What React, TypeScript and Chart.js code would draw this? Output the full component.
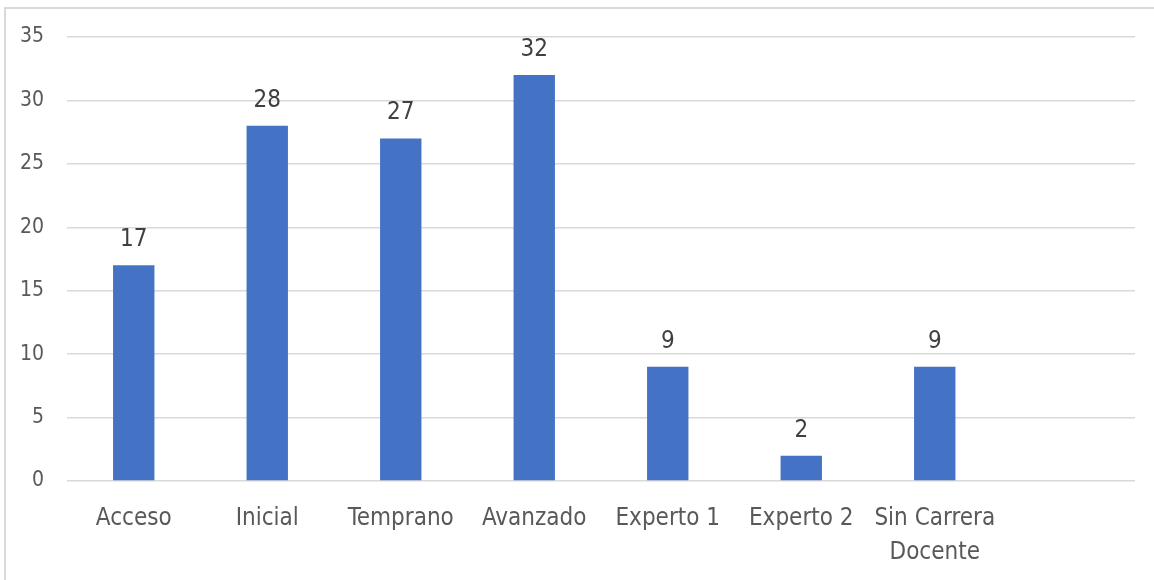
import React, { useEffect, useRef } from "react";
import { Chart, registerables } from "chart.js";

Chart.register(...registerables);

const categories: (string | string[])[] = [
  "Acceso",
  "Inicial",
  "Temprano",
  "Avanzado",
  "Experto 1",
  "Experto 2",
  ["Sin Carrera", "Docente"],
  "",
];
const values: (number | null)[] = [17, 28, 27, 32, 9, 2, 9, null];
const yMax = 35;
const yStep = 5;

const FONT = '"Liberation Sans Narrow", "DejaVu Sans Condensed", "Roboto", sans-serif';

const dataLabelPlugin = {
  id: "dataLabels",
  afterDatasetsDraw(chart: any) {
    const ctx = chart.ctx;
    const meta = chart.getDatasetMeta(0);
    ctx.save();
    ctx.font = `24px ${FONT}`;
    ctx.fillStyle = "#404040";
    ctx.textAlign = "center";
    ctx.textBaseline = "alphabetic";
    meta.data.forEach((el: any, i: number) => {
      const v = values[i];
      if (v === null || v === undefined) return;
      ctx.fillText(String(v), el.x, el.y - 19);
    });
    ctx.restore();
  },
};

export default function App() {
  const ref = useRef<HTMLCanvasElement>(null);
  useEffect(() => {
    if (!ref.current) return;
    const chart = new Chart(ref.current, {
      type: "bar",
      data: {
        labels: categories,
        datasets: [
          {
            data: values,
            backgroundColor: "#4472C4",
            categoryPercentage: 1,
            barPercentage: 0.31,
          },
        ],
      },
      options: {
        animation: false,
        responsive: false,
        maintainAspectRatio: false,
        layout: { padding: { top: 37, right: 19, left: 0, bottom: 0 } },
        plugins: { legend: { display: false }, tooltip: { enabled: false } },
        scales: {
          x: {
            grid: { display: false },
            border: { display: false },
            ticks: {
              color: "#595959",
              font: { family: FONT, size: 24, lineHeight: 1.45 },
              padding: 12,
              maxRotation: 0,
              autoSkip: false,
            },
            afterFit: (s: any) => {
              s.height = 99;
            },
          },
          y: {
            min: 0,
            max: yMax,
            grid: { color: "#d9d9d9", lineWidth: 1.5, drawTicks: false },
            border: { display: false },
            ticks: {
              stepSize: yStep,
              color: "#595959",
              font: { family: FONT, size: 21 },
              padding: 23,
            },
            afterFit: (s: any) => {
              s.width = 67;
            },
          },
        },
      },
      plugins: [dataLabelPlugin],
    });
    return () => chart.destroy();
  }, []);
  return (
    <div style={{ position: "fixed", left: 0, top: 0, width: 1154, height: 580, background: "#fff" }}>
      <div
        style={{
          position: "absolute",
          left: 4,
          top: 7,
          right: -10,
          bottom: -10,
          borderLeft: "2px solid #d9d9d9",
          borderTop: "2px solid #d9d9d9",
        }}
      />
      <canvas ref={ref} width={1154} height={580} style={{ position: "absolute", left: 0, top: 0 }} />
    </div>
  );
}
